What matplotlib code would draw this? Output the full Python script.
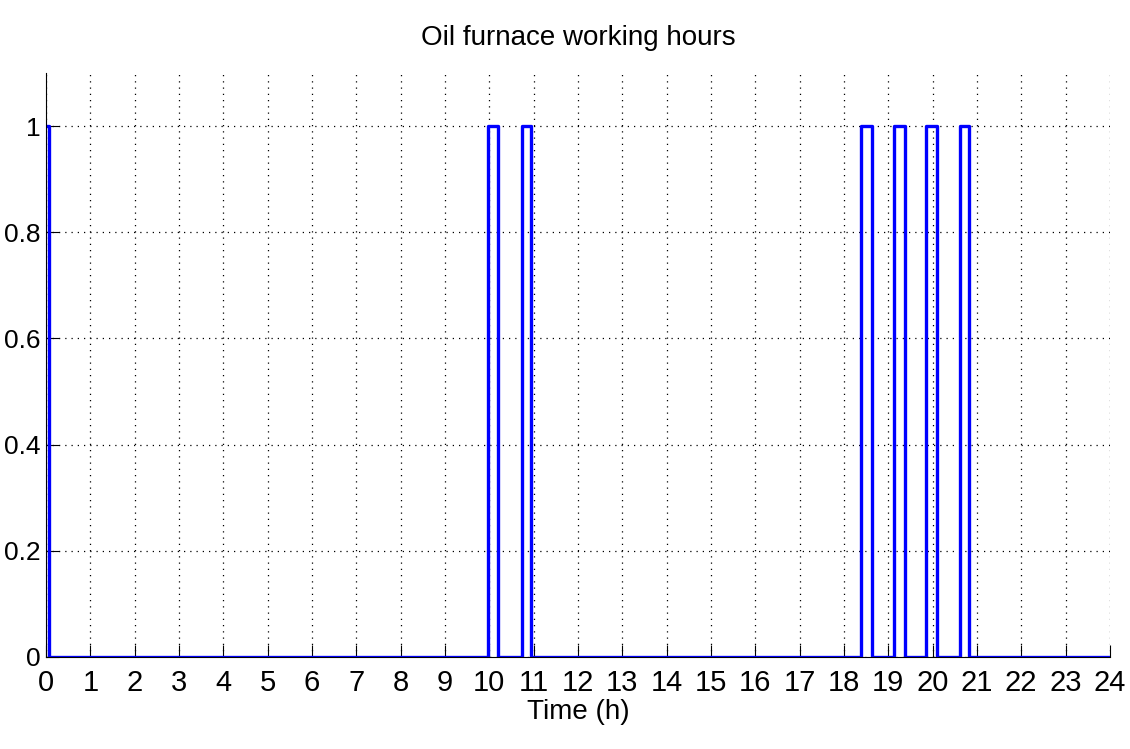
import numpy as np
from matplotlib import pyplot as plt

plt.rcParams['font.family'] = ['Liberation Sans Narrow', 'Liberation Sans', 'DejaVu Sans']

# furnace ON intervals (hours)
on_start = [0.0, 9.96, 10.73, 18.39, 19.13, 19.86, 20.62]
on_end = [0.06, 10.19, 10.94, 18.64, 19.37, 20.10, 20.82]
t_end = 24.0

t = [0.0]
state = [1]
for s, e in zip(on_start, on_end):
    if s > 0:
        t += [s, s]
        state += [0, 1]
    t += [e, e]
    state += [1, 0]
t.append(t_end)
state.append(0)

fig = plt.figure(figsize=(11.3, 7.49), dpi=100)
ax = fig.add_axes([0.0407, 0.123, 0.9415, 0.7795])
ax.plot(t, state, color='#0000ff', lw=2.4)

ax.set_xlim(0, 24)
ax.set_ylim(0, 1.1)
ax.set_xticks(np.arange(0, 25, 1))
ax.set_yticks([0, 0.2, 0.4, 0.6, 0.8, 1])
ax.set_yticklabels(['0', '0.2', '0.4', '0.6', '0.8', '1'])
ax.grid(True, color='black', linestyle=(0, (1, 4)), lw=0.9)
ax.spines['top'].set_visible(False)
ax.spines['right'].set_visible(False)
ax.tick_params(direction='in', length=9)
ax.tick_params(axis='x', pad=9, labelsize=21)
ax.tick_params(axis='y', pad=4, labelsize=19)
ax.set_xlabel('Time (h)', fontsize=20, labelpad=1)
ax.set_title('Oil furnace working hours', fontsize=20, pad=20)

plt.savefig('out.png', dpi=100)
